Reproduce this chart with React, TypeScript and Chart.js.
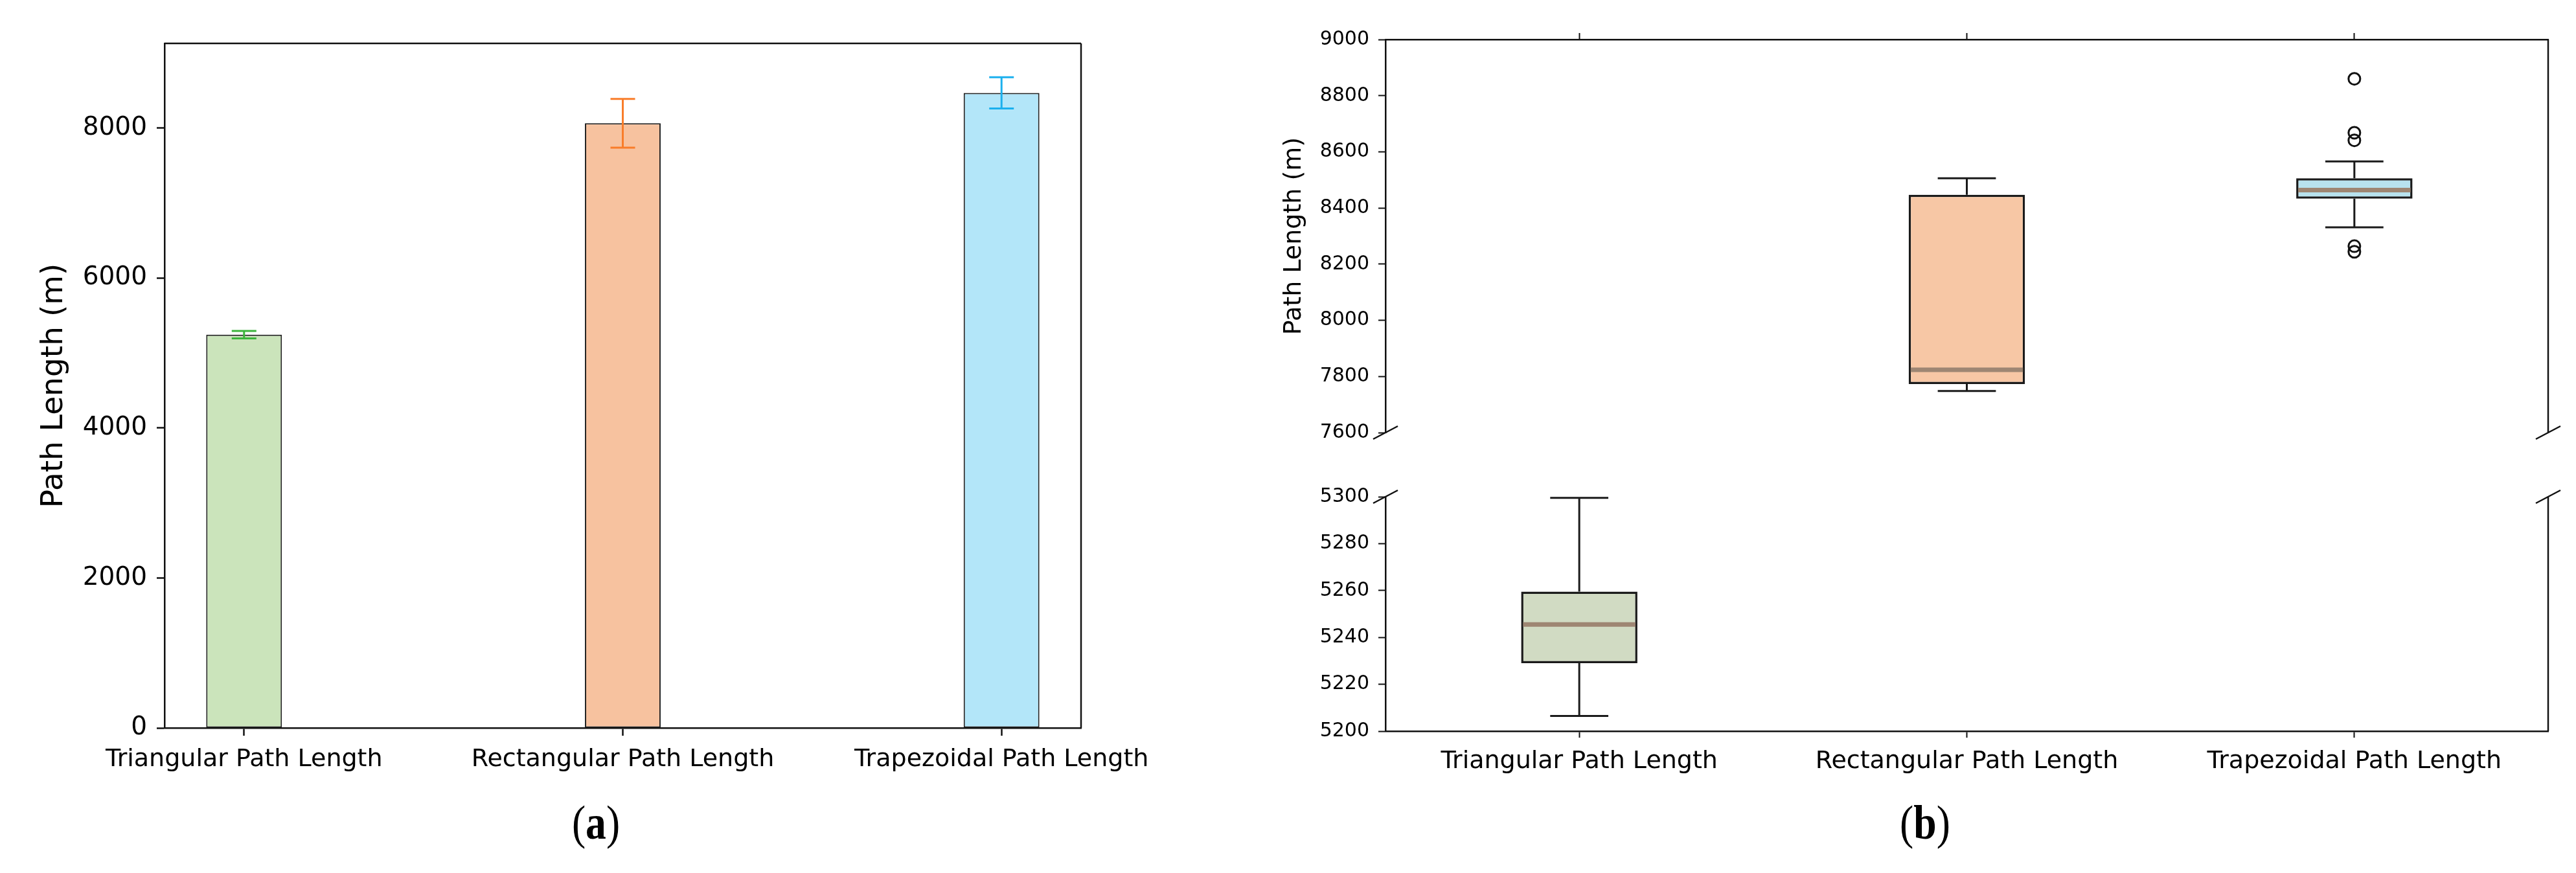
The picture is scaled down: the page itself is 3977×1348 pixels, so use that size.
import React, { useEffect, useRef } from 'react';
import { Chart, registerables } from 'chart.js';

Chart.register(...registerables);

// ---------- data ----------
const categories = ['Triangular Path Length', 'Rectangular Path Length', 'Trapezoidal Path Length'];

// panel (a): mean path length with error bars
const meanValues = [5245, 8065, 8470];
const errValues = [50, 325, 208];
const barYTicks = [0, 2000, 4000, 6000, 8000];

// panel (b): box plots
const boxPositions = [1, 2, 3];
const whiskerLow = [5206.5, 7748, 8331];
const boxQ1 = [5229, 7773, 8433];
const boxMedian = [5245.5, 7824, 8464];
const boxQ3 = [5259.5, 8447, 8506];
const whiskerHigh = [5299.5, 8506, 8566];
const outlierPositions = [3, 3, 3, 3, 3];
const outlierValues = [8860, 8668, 8641, 8264, 8244];
const upperYTicks = [7600, 7800, 8000, 8200, 8400, 8600, 8800, 9000];
const lowerYTicks = [5200, 5220, 5240, 5260, 5280, 5300];

// ---------- styles ----------
const FONT = 'DejaVu Sans';
const INK = '#000000';
const barFill = ['#cbe4bb', '#f7c29f', '#b3e6f9'];
const errColors = ['#3cb43c', '#f97d2a', '#1bb0ee'];
const boxFill = ['#d1dbc3', '#f7c7a5', '#b8e2ee'];
const medianColor = '#9e8673';

Chart.defaults.font.family = FONT;

const LEFT_W = 1850;
const RIGHT_X = 1850;
const RIGHT_W = 3977 - RIGHT_X;

const framePlugin = (sides: string[]) => ({
  id: 'frameSides',
  afterDatasetsDraw(chart: any) {
    const { ctx, chartArea: a } = chart;
    ctx.save();
    ctx.strokeStyle = '#111111';
    ctx.lineWidth = 2.5;
    ctx.beginPath();
    if (sides.includes('top')) { ctx.moveTo(a.left, a.top); ctx.lineTo(a.right, a.top); }
    if (sides.includes('right')) { ctx.moveTo(a.right, a.top); ctx.lineTo(a.right, a.bottom); }
    ctx.stroke();
    ctx.restore();
  },
});

const errorBarPlugin = {
  id: 'errorBars',
  afterDatasetsDraw(chart: any) {
    const { ctx, scales } = chart;
    const x = scales.x;
    const y = scales.y;
    ctx.save();
    ctx.lineWidth = 3;
    meanValues.forEach((m, i) => {
      const px = x.getPixelForValue(i);
      const top = y.getPixelForValue(m + errValues[i]);
      const bot = y.getPixelForValue(m - errValues[i]);
      ctx.strokeStyle = errColors[i];
      ctx.beginPath();
      ctx.moveTo(px, top); ctx.lineTo(px, bot);
      ctx.moveTo(px - 19, top); ctx.lineTo(px + 19, top);
      ctx.moveTo(px - 19, bot); ctx.lineTo(px + 19, bot);
      ctx.stroke();
    });
    ctx.restore();
  },
};

const whiskerPlugin = {
  id: 'whiskers',
  afterDatasetsDraw(chart: any) {
    const { ctx, chartArea: a, scales } = chart;
    const x = scales.x;
    const y = scales.y;
    ctx.save();
    ctx.beginPath();
    ctx.rect(a.left, a.top - 3, a.right - a.left, a.bottom - a.top + 6);
    ctx.clip();
    boxPositions.forEach((p, i) => {
      const px = x.getPixelForValue(p);
      const capHalf = x.getPixelForValue(p + 0.075) - px;
      const boxHalf = x.getPixelForValue(p + 0.15) - px;
      ctx.strokeStyle = '#1a1a1a';
      ctx.lineWidth = 3;
      ctx.beginPath();
      const yHi = y.getPixelForValue(whiskerHigh[i]);
      const yQ3 = y.getPixelForValue(boxQ3[i]);
      const yQ1 = y.getPixelForValue(boxQ1[i]);
      const yLo = y.getPixelForValue(whiskerLow[i]);
      ctx.moveTo(px, yQ3); ctx.lineTo(px, yHi);
      ctx.moveTo(px - capHalf, yHi); ctx.lineTo(px + capHalf, yHi);
      ctx.moveTo(px, yQ1); ctx.lineTo(px, yLo);
      ctx.moveTo(px - capHalf, yLo); ctx.lineTo(px + capHalf, yLo);
      ctx.stroke();
      const yMed = y.getPixelForValue(boxMedian[i]);
      ctx.strokeStyle = medianColor;
      ctx.lineWidth = 7;
      ctx.beginPath();
      ctx.moveTo(px - boxHalf + 3, yMed); ctx.lineTo(px + boxHalf - 3, yMed);
      ctx.stroke();
    });
    ctx.restore();
  },
};

const breakPlugin = (where: 'top' | 'bottom') => ({
  id: 'breakMarks',
  afterDraw(chart: any) {
    const { ctx, chartArea: a } = chart;
    const yy = where === 'bottom' ? a.bottom : a.top;
    ctx.save();
    ctx.strokeStyle = '#111111';
    ctx.lineWidth = 2.5;
    ctx.beginPath();
    [a.left, a.right].forEach((xx: number) => {
      ctx.moveTo(xx - 19, yy + 10);
      ctx.lineTo(xx + 19, yy - 10);
    });
    ctx.moveTo(a.right, a.top); ctx.lineTo(a.right, a.bottom);
    ctx.stroke();
    ctx.restore();
  },
});

function tickGrid(len: number, width: number) {
  return {
    display: true,
    offset: false,
    drawOnChartArea: false,
    drawTicks: true,
    tickLength: len,
    tickWidth: width,
    tickColor: '#111111',
  };
}

function leftConfig(): any {
  return {
    type: 'bar',
    data: {
      datasets: [
        {
          data: meanValues.map((v, i) => ({ x: i, y: v })),
          backgroundColor: barFill,
          borderColor: '#222222',
          borderWidth: 2,
          borderSkipped: false,
          barPercentage: 0.2,
          categoryPercentage: 1,
          clip: 0,
        },
      ],
    },
    options: {
      responsive: false,
      animation: false,
      devicePixelRatio: 1,
      events: [],
      layout: { padding: { left: 0, top: 67, right: LEFT_W - 1669, bottom: 0 } },
      plugins: { legend: { display: false }, tooltip: { enabled: false } },
      scales: {
        x: {
          type: 'linear',
          offset: false,
          min: -0.21,
          max: 2.21,
          afterBuildTicks: (s: any) => { s.ticks = categories.map((_, i) => ({ value: i })); },
          afterFit: (s: any) => { s.height = 1348 - 1124; },
          ticks: {
            callback: (v: any) => categories[v],
            font: { family: FONT, size: 38 },
            color: INK,
            padding: 14,
            autoSkip: false,
            maxRotation: 0,
            minRotation: 0,
          },
          grid: tickGrid(12, 2.5),
          border: { display: true, color: '#111111', width: 2.5 },
        },
        y: {
          type: 'linear',
          min: 0,
          max: 9130,
          afterBuildTicks: (s: any) => { s.ticks = barYTicks.map((v) => ({ value: v })); },
          afterFit: (s: any) => { s.width = 254; },
          ticks: {
            font: { family: FONT, size: 39 },
            color: INK,
            padding: 15,
            callback: (v: any) => String(v),
          },
          grid: tickGrid(12, 2.5),
          border: { display: true, color: '#111111', width: 2.5 },
          title: {
            display: true,
            text: 'Path Length (m)',
            font: { family: FONT, size: 47 },
            color: INK,
            padding: { top: 56, bottom: 0 },
          },
        },
      },
    },
    plugins: [framePlugin(['top', 'right']), errorBarPlugin],
  };
}

function boxDatasets(): any[] {
  return [
    {
      type: 'bar',
      data: boxPositions.map((p, i) => ({ x: p, y: [boxQ1[i], boxQ3[i]] })),
      backgroundColor: boxFill,
      borderColor: '#1a1a1a',
      borderWidth: 3.5,
      borderSkipped: false,
      barPercentage: 0.3,
      categoryPercentage: 1,
      clip: 0,
    },
    {
      type: 'scatter',
      data: outlierValues.map((v, i) => ({ x: outlierPositions[i], y: v })),
      pointRadius: 9,
      pointBorderWidth: 3,
      pointBorderColor: '#111111',
      pointBackgroundColor: 'rgba(0,0,0,0)',
      showLine: false,
      clip: 0,
    },
  ];
}

function topConfig(): any {
  return {
    type: 'bar',
    data: { datasets: boxDatasets() },
    options: {
      responsive: false,
      animation: false,
      devicePixelRatio: 1,
      events: [],
      layout: { padding: { left: 0, top: 0, right: RIGHT_W - (3934 - RIGHT_X), bottom: 700 - 668 } },
      plugins: { legend: { display: false }, tooltip: { enabled: false } },
      scales: {
        x: {
          type: 'linear',
          position: 'top',
          offset: false,
          min: 0.5,
          max: 3.5,
          afterBuildTicks: (s: any) => { s.ticks = boxPositions.map((p) => ({ value: p })); },
          afterFit: (s: any) => { s.height = 61; },
          ticks: { display: false },
          grid: tickGrid(10, 2),
          border: { display: true, color: '#111111', width: 2.5 },
        },
        y: {
          type: 'linear',
          min: 7600,
          max: 9000,
          afterBuildTicks: (s: any) => { s.ticks = upperYTicks.map((v) => ({ value: v })); },
          afterFit: (s: any) => { s.width = 2139 - RIGHT_X; },
          ticks: {
            font: { family: FONT, size: 30 },
            color: INK,
            padding: 14,
            callback: (v: any) => String(v),
          },
          grid: tickGrid(11, 2),
          border: { display: true, color: '#111111', width: 2.5 },
          title: {
            display: true,
            text: 'Path Length (m)',
            font: { family: FONT, size: 38 },
            color: INK,
            padding: { top: 125, bottom: 0 },
          },
        },
      },
    },
    plugins: [whiskerPlugin, breakPlugin('bottom')],
  };
}

function bottomConfig(): any {
  return {
    type: 'bar',
    data: { datasets: boxDatasets() },
    options: {
      responsive: false,
      animation: false,
      devicePixelRatio: 1,
      events: [],
      layout: { padding: { left: 0, top: 767 - 700, right: RIGHT_W - (3934 - RIGHT_X), bottom: 0 } },
      plugins: { legend: { display: false }, tooltip: { enabled: false } },
      scales: {
        x: {
          type: 'linear',
          position: 'bottom',
          offset: false,
          min: 0.5,
          max: 3.5,
          afterBuildTicks: (s: any) => { s.ticks = boxPositions.map((p) => ({ value: p })); },
          afterFit: (s: any) => { s.height = 1348 - 1129; },
          ticks: {
            callback: (v: any) => categories[v - 1],
            font: { family: FONT, size: 38 },
            color: INK,
            padding: 14,
            autoSkip: false,
            maxRotation: 0,
            minRotation: 0,
          },
          grid: tickGrid(10, 2),
          border: { display: true, color: '#111111', width: 2.5 },
        },
        y: {
          type: 'linear',
          min: 5200,
          max: 5300,
          afterBuildTicks: (s: any) => { s.ticks = lowerYTicks.map((v) => ({ value: v })); },
          afterFit: (s: any) => { s.width = 2139 - RIGHT_X; },
          ticks: {
            font: { family: FONT, size: 30 },
            color: INK,
            padding: 14,
            callback: (v: any) => String(v),
          },
          grid: tickGrid(11, 2),
          border: { display: true, color: '#111111', width: 2.5 },
        },
      },
    },
    plugins: [whiskerPlugin, breakPlugin('top')],
  };
}

function ChartCanvas(props: { make: () => any; left: number; top: number; width: number; height: number }) {
  const ref = useRef<HTMLCanvasElement | null>(null);
  useEffect(() => {
    if (!ref.current) return;
    const chart = new Chart(ref.current, props.make());
    return () => chart.destroy();
  }, []);
  return (
    <canvas
      ref={ref}
      width={props.width}
      height={props.height}
      style={{ position: 'absolute', left: props.left, top: props.top, width: props.width, height: props.height }}
    />
  );
}

const panelLabelStyle: React.CSSProperties = {
  position: 'absolute',
  top: 1233,
  fontFamily: '"Liberation Serif", "DejaVu Serif", serif',
  fontSize: 74,
  lineHeight: '74px',
  color: '#000',
  whiteSpace: 'nowrap',
  transform: 'translateX(-50%) scaleX(0.86)',
};

export default function App() {
  return (
    <div style={{ position: 'absolute', left: 0, top: 0, width: 3977, height: 1348, background: '#ffffff', overflow: 'hidden' }}>
      <ChartCanvas make={leftConfig} left={0} top={0} width={LEFT_W} height={1348} />
      <ChartCanvas make={topConfig} left={RIGHT_X} top={0} width={RIGHT_W} height={700} />
      <ChartCanvas make={bottomConfig} left={RIGHT_X} top={700} width={RIGHT_W} height={648} />
      <div style={{ ...panelLabelStyle, left: 920 }}>(<b>a</b>)</div>
      <div style={{ ...panelLabelStyle, left: 2972 }}>(<b>b</b>)</div>
    </div>
  );
}
